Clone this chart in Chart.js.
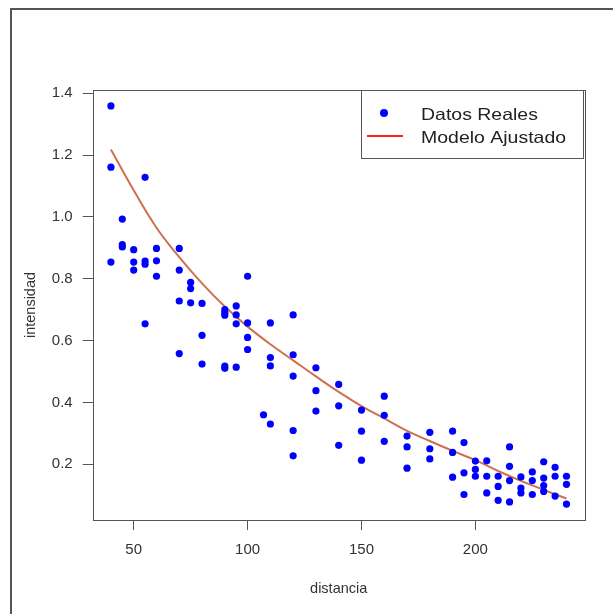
<!DOCTYPE html>
<html>
<head>
<meta charset="utf-8">
<script src="https://cdn.jsdelivr.net/npm/chart.js@4"></script>
<style>
  html, body { margin: 0; padding: 0; background: #fff; overflow: hidden; }
  #frame { position: absolute; left: 10px; top: 8px; width: 640px; height: 640px;
           border-left: 2px solid #555; border-top: 2px solid #555; }
  #myChart { position: absolute; left: 0; top: 0; }
</style>
</head>
<body>
<div id="frame"></div>
<canvas id="myChart" width="613" height="614"></canvas>
<script>
const distancia = [
  40, 40, 40,
  45, 45, 45,
  50, 50, 50,
  55, 55, 55, 55,
  60, 60, 60,
  70, 70, 70, 70,
  75, 75, 75,
  80, 80, 80,
  90, 90, 90, 90, 90,
  95, 95, 95, 95,
  100, 100, 100, 100,
  107,
  110, 110, 110, 110,
  120, 120, 120, 120, 120,
  130, 130, 130,
  140, 140, 140,
  150, 150, 150,
  160, 160, 160,
  170, 170, 170,
  180, 180, 180,
  190, 190, 190,
  195, 195, 195,
  200, 200, 200,
  205, 205, 205,
  210, 210, 210,
  215, 215, 215, 215,
  220, 220, 220,
  225, 225, 225,
  230, 230, 230, 230,
  235, 235, 235,
  240, 240, 240
];
const intensidad = [
  1.359, 1.161, 0.854,
  0.993, 0.910, 0.903,
  0.894, 0.854, 0.828,
  1.128, 0.857, 0.847, 0.654,
  0.898, 0.858, 0.808,
  0.898, 0.828, 0.728, 0.558,
  0.788, 0.768, 0.722,
  0.720, 0.617, 0.524,
  0.700, 0.690, 0.682, 0.517, 0.510,
  0.712, 0.683, 0.654, 0.514,
  0.808, 0.657, 0.610, 0.571,
  0.360,
  0.657, 0.545, 0.518, 0.330,
  0.683, 0.554, 0.485, 0.309, 0.227,
  0.512, 0.438, 0.372,
  0.458, 0.389, 0.261,
  0.375, 0.307, 0.213,
  0.420, 0.358, 0.274,
  0.291, 0.256, 0.187,
  0.303, 0.250, 0.217,
  0.307, 0.238, 0.158,
  0.270, 0.172, 0.102,
  0.210, 0.183, 0.161,
  0.211, 0.161, 0.107,
  0.161, 0.128, 0.083,
  0.256, 0.193, 0.147, 0.078,
  0.159, 0.123, 0.107,
  0.175, 0.147, 0.102,
  0.208, 0.155, 0.131, 0.112,
  0.190, 0.161, 0.097,
  0.161, 0.135, 0.071
];

// curva del modelo ajustado
const modeloX = [40, 50, 60, 70, 80, 90, 100, 110, 120, 130, 140, 150, 160, 170, 180, 190, 200, 210, 220, 230, 240];
const modeloY = [1.218, 1.086, 0.965, 0.870, 0.785, 0.710, 0.645, 0.588, 0.536, 0.484, 0.434, 0.388, 0.348, 0.308, 0.275, 0.243, 0.213, 0.178, 0.146, 0.117, 0.089];

const xTicks = [50, 100, 150, 200];
const yTicks = [0.2, 0.4, 0.6, 0.8, 1.0, 1.2, 1.4];

const fuente = "'Liberation Sans', Arial, sans-serif";

const data = {
  datasets: [{
    label: 'Datos Reales',
    type: 'scatter',
    data: distancia.map((d, i) => ({ x: d, y: intensidad[i] })),
    backgroundColor: '#0000ff',
    borderWidth: 0,
    pointRadius: 3.6
  }, {
    label: 'Modelo Ajustado',
    type: 'line',
    data: modeloX.map((d, i) => ({ x: d, y: modeloY[i] })),
    borderColor: '#cd7050',
    borderWidth: 2,
    pointRadius: 0,
    tension: 0.4,
    fill: false
  }]
};

// caja del grafico y leyenda estilo R
const cajaR = {
  id: 'cajaR',
  afterDraw(chart) {
    const { ctx, chartArea: a } = chart;
    ctx.save();
    ctx.strokeStyle = '#555';
    ctx.lineWidth = 1;
    ctx.strokeRect(Math.round(a.left) + 0.5, Math.round(a.top) + 0.5,
      Math.round(a.right - a.left), Math.round(a.bottom - a.top));

    // leyenda
    const lx = 361, ly = 90, lw = 222, lh = 68;
    ctx.fillStyle = '#fff';
    ctx.fillRect(lx, ly, lw, lh);
    ctx.strokeRect(lx + 0.5, ly + 0.5, lw, lh);
    ctx.fillStyle = '#0000ff';
    ctx.beginPath();
    ctx.arc(384, 113, 4, 0, Math.PI * 2);
    ctx.fill();
    ctx.strokeStyle = '#ff2020';
    ctx.lineWidth = 2;
    ctx.beginPath();
    ctx.moveTo(367, 136);
    ctx.lineTo(403, 136);
    ctx.stroke();
    ctx.fillStyle = '#222';
    ctx.font = '16.5px ' + fuente;
    ctx.textBaseline = 'middle';
    ctx.textAlign = 'left';
    ctx.translate(421, 0);
    ctx.scale(1.18, 1);
    ctx.fillText(chart.data.datasets[0].label, 0, 115);
    ctx.fillText(chart.data.datasets[1].label, 0, 138);
    ctx.restore();
  }
};

const config = {
  type: 'scatter',
  data,
  options: {
    responsive: false,
    animation: false,
    layout: { padding: { left: 0, top: 90, right: 28.3, bottom: 0 } },
    plugins: {
      legend: { display: false },
      tooltip: { enabled: false }
    },
    scales: {
      x: {
        type: 'linear',
        min: 32,
        max: 248,
        afterBuildTicks: s => { s.ticks = xTicks.map(v => ({ value: v })); },
        afterFit: s => { s.height = 94; },
        border: { display: false },
        grid: { drawOnChartArea: false, drawTicks: true, tickLength: 10, color: '#555' },
        ticks: { color: '#333', font: { family: fuente, size: 15 }, padding: 11, maxRotation: 0 },
        title: { display: true, text: 'distancia', color: '#333', font: { family: fuente, size: 14.5 }, padding: { top: 0, bottom: 16 } }
      },
      y: {
        type: 'linear',
        min: 0.0195,
        max: 1.4105,
        afterBuildTicks: s => { s.ticks = yTicks.map(v => ({ value: v })); },
        afterFit: s => { s.width = 92.7; },
        border: { display: false },
        grid: { drawOnChartArea: false, drawTicks: true, tickLength: 10, color: '#555' },
        ticks: { color: '#333', font: { family: fuente, size: 15 }, padding: 10, callback: v => v.toFixed(1) },
        title: { display: true, text: 'intensidad', color: '#333', font: { family: fuente, size: 14.5 }, padding: { top: 22, bottom: 0 } }
      }
    }
  },
  plugins: [cajaR]
};

var myChart = new Chart(document.getElementById('myChart'), config);
</script>
</body>
</html>
